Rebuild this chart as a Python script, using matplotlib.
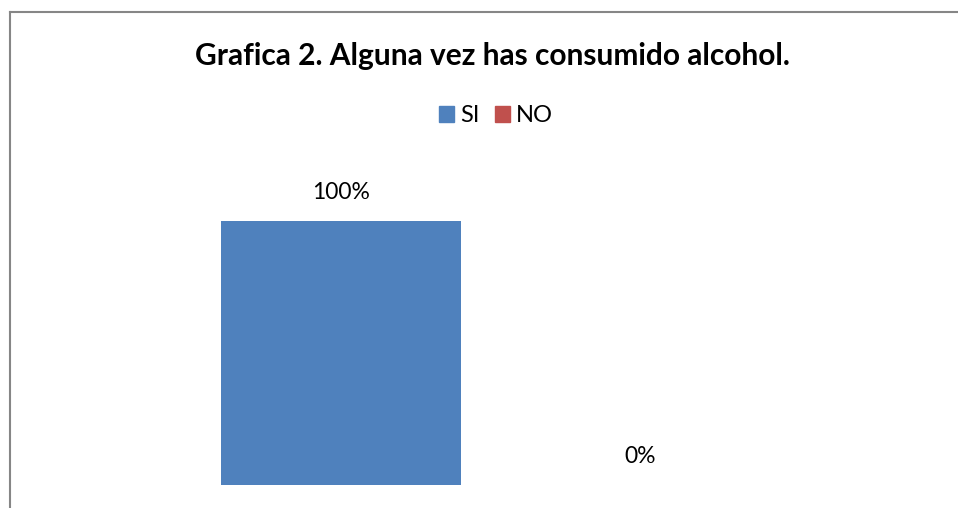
import matplotlib.pyplot as plt
from matplotlib.lines import Line2D
from matplotlib.patches import Patch

# datos de la grafica
categorias = ["SI", "NO"]
valores = [1.00, 0.00]
etiquetas = ["100%", "0%"]
colores = ["#4F81BD", "#C0504D"]

plt.rcParams['font.family'] = ['Lato', 'DejaVu Sans']

W, H = 958, 508
fig = plt.figure(figsize=(W / 100, H / 100), dpi=100)

# area del grafico (en pixeles de la imagen)
x0, x1 = 191.5, 789.5
y_base, y_top = 485, 221
ax = fig.add_axes([x0 / W, 1 - y_base / H, (x1 - x0) / W, (y_base - y_top) / H])

pos = range(len(categorias))
ax.bar(pos, valores, width=240 / 299, color=colores)
for p, v, t in zip(pos, valores, etiquetas):
    ax.annotate(t, (p, v), xytext=(0, 20.5), textcoords='offset points',
                ha='center', va='center', fontsize=16.5, color='black')
ax.set_xlim(-0.5, 1.5)
ax.set_ylim(0, 1)
ax.axis('off')

fig.text(492 / W, 1 - 56 / H, "Grafica 2. Alguna vez has consumido alcohol.",
         ha='center', va='center', fontsize=21.5, fontweight='bold')

handles = [Patch(color=c, label=n) for c, n in zip(colores, categorias)]
fig.legend(handles=handles, loc='center', bbox_to_anchor=(496 / W, 1 - 116 / H),
           ncol=2, frameon=False, fontsize=17, handlelength=0.65, handleheight=0.65,
           handletextpad=0.25, columnspacing=0.63, borderpad=0)

# borde del grafico
fig.add_artist(Line2D([10 / W, 10 / W], [0, 1 - 12 / H], color='#868686', lw=1.5))
fig.add_artist(Line2D([10 / W, 1], [1 - 12 / H, 1 - 12 / H], color='#868686', lw=1.5))

fig.savefig("out.png", dpi=100)
